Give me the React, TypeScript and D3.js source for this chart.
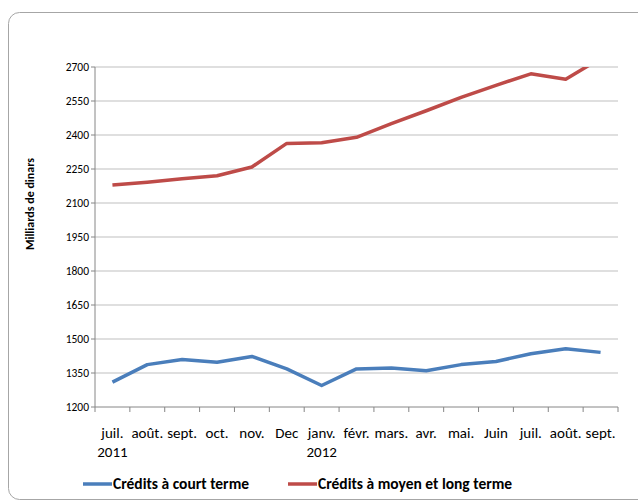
import React from "react";
import * as d3 from "d3";

const categories: string[][] = [
  ["juil.", "2011"], ["août."], ["sept."], ["oct."], ["nov."], ["Dec"],
  ["janv.", "2012"], ["févr."], ["mars."], ["avr."], ["mai."], ["Juin"],
  ["juil."], ["août."], ["sept."],
];
const courtTerme = [1310, 1387, 1410, 1397, 1423, 1368, 1295, 1368, 1372, 1360, 1387, 1401, 1435, 1457, 1441];
const moyenLongTerme = [2179, 2192, 2207, 2220, 2259, 2363, 2366, 2390, 2450, 2507, 2566, 2619, 2670, 2646, 2738];
const yTicks = [1200, 1350, 1500, 1650, 1800, 1950, 2100, 2250, 2400, 2550, 2700];
const seriesNames = ["Crédits à court terme", "Crédits à moyen et long terme"];
const colors = ["#4a7ebb", "#be4b48"];

const W = 638, H = 502;
const left = 95, right = 618, top = 67, bottom = 407;
const font = "Carlito, Lato, 'Liberation Sans', sans-serif";

export default function App() {
  const x = d3.scaleBand<number>().domain(d3.range(categories.length)).range([left, right]);
  const y = d3.scaleLinear().domain([1200, 2700]).range([bottom, top]);
  const line = d3.line<number>().x((_, i) => (x(i) as number) + x.bandwidth() / 2).y((d) => y(d));
  const series = [courtTerme, moyenLongTerme];
  const boundaries = d3.range(categories.length + 1).map((i) => left + i * x.step());
  return (
    <svg width={W} height={H} style={{ position: "absolute", left: 0, top: 0 }} fontFamily={font}>
      <defs>
        <clipPath id="plot">
          <rect x={left} y={top} width={right - left} height={bottom - top} />
        </clipPath>
      </defs>
      <rect x={0} y={0} width={W} height={H} fill="#fff" />
      <rect x={8.5} y={12.5} width={W + 20} height={487} rx={11} fill="#fff" stroke="#a6a6a6" strokeWidth={1} />
      {yTicks.slice(1).map((t) => (
        <line key={t} x1={left} x2={right} y1={y(t)} y2={y(t)} stroke="#bfbfbf" strokeWidth={1.2} />
      ))}
      <line x1={left} x2={left} y1={top} y2={bottom} stroke="#868686" strokeWidth={1} />
      <line x1={left} x2={right} y1={bottom} y2={bottom} stroke="#868686" strokeWidth={1} />
      {yTicks.map((t) => (
        <g key={t}>
          <line x1={left - 4} x2={left} y1={y(t)} y2={y(t)} stroke="#868686" />
          <text x={left - 6} y={y(t)} dy="0.35em" textAnchor="end" fontSize={11.5} fill="#000">{t}</text>
        </g>
      ))}
      {boundaries.map((b, i) => (
        <line key={i} x1={b} x2={b} y1={bottom} y2={bottom + 5} stroke="#868686" />
      ))}
      {categories.map((c, i) => (
        <text key={i} x={(x(i) as number) + x.bandwidth() / 2} y={438} textAnchor="middle" fontSize={15} fill="#000">
          {c.map((s, j) => (
            <tspan key={j} x={(x(i) as number) + x.bandwidth() / 2} dy={j === 0 ? 0 : 19}>{s}</tspan>
          ))}
        </text>
      ))}
      <g clipPath="url(#plot)">
        {series.map((s, k) => (
          <path key={k} d={line(s) || ""} fill="none" stroke={colors[k]} strokeWidth={3.5} strokeLinejoin="round" />
        ))}
      </g>
      <text transform="translate(34,204) rotate(-90)" textAnchor="middle" fontSize={12} fontWeight="bold" fill="#000">
        Milliards de dinars
      </text>
      {[83, 288].map((lx, k) => (
        <g key={k}>
          <line x1={lx} x2={lx + 29} y1={484} y2={484} stroke={colors[k]} strokeWidth={3.5} />
          <text x={lx + 30} y={484} dy="0.35em" fontSize={15.5} fontWeight="bold" fill="#000">{seriesNames[k]}</text>
        </g>
      ))}
    </svg>
  );
}
